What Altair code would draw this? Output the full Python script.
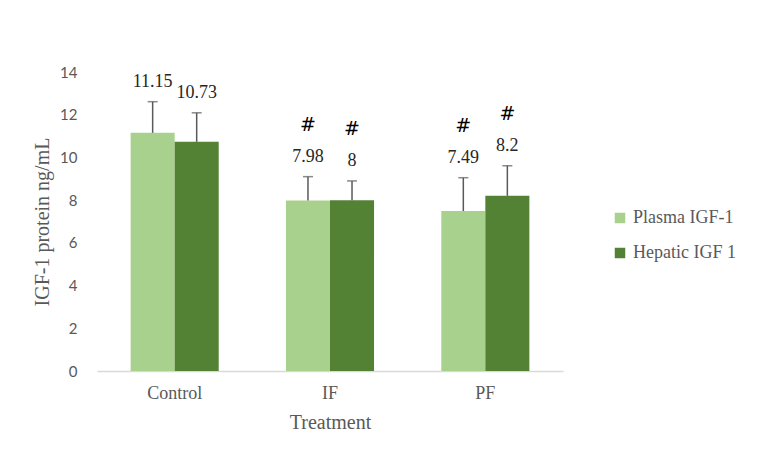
import altair as alt
import pandas as pd

categories = ["Control", "IF", "PF"]
series_names = ["Plasma IGF-1", "Hepatic IGF 1"]
plasma = [11.15, 7.98, 7.49]
hepatic = [10.73, 8, 8.2]
plasma_sd = [1.46, 1.12, 1.56]
hepatic_sd = [1.36, 0.90, 1.41]
plasma_sig = ["", "#", "#"]
hepatic_sig = ["", "#", "#"]
colors = ["#A9D18E", "#548235"]

rows = []
for i, c in enumerate(categories):
    rows.append({"Treatment": c, "Series": series_names[0], "value": plasma[i],
                 "sd": plasma_sd[i], "top": plasma[i] + plasma_sd[i],
                 "label": str(plasma[i]), "sig": plasma_sig[i]})
    rows.append({"Treatment": c, "Series": series_names[1], "value": hepatic[i],
                 "sd": hepatic_sd[i], "top": hepatic[i] + hepatic_sd[i],
                 "label": str(hepatic[i]), "sig": hepatic_sig[i]})
df = pd.DataFrame(rows)

serif = "Liberation Serif"
sans = "Lato"

x = alt.X("Treatment:N", sort=categories, title="Treatment",
          scale=alt.Scale(paddingInner=0.433, paddingOuter=0.2165),
          axis=alt.Axis(labelAngle=0, labelFont=serif, labelFontSize=18,
                        labelColor="#595959", titleFont=serif, titleFontSize=20,
                        titleFontWeight="normal", titleColor="#595959",
                        domainColor="#D9D9D9", domainWidth=1.5, ticks=False,
                        labelPadding=13, titlePadding=10))
xo = alt.XOffset("Series:N", sort=series_names,
                 scale=alt.Scale(paddingInner=0, paddingOuter=0))
y_scale = alt.Scale(domain=[0, 14])

base = alt.Chart(df)

bars = base.mark_bar().encode(
    x=x, xOffset=xo,
    y=alt.Y("value:Q", scale=y_scale, title="IGF-1 protein ng/mL",
            axis=alt.Axis(values=[0, 2, 4, 6, 8, 10, 12, 14], grid=False,
                          domain=False, ticks=False, labelFont=sans,
                          labelFontSize=15, labelColor="#595959", labelPadding=20,
                          titleFont=serif, titleFontSize=20,
                          titleFontWeight="normal", titleColor="#595959",
                          titlePadding=7)),
    color=alt.Color("Series:N", sort=series_names,
                    scale=alt.Scale(domain=series_names, range=colors),
                    legend=alt.Legend(title=None, orient="none", legendX=514,
                                      legendY=137, symbolType="square",
                                      symbolSize=110, symbolStrokeWidth=0,
                                      labelFont=serif, labelFontSize=18,
                                      labelColor="#595959", rowPadding=17,
                                      labelOffset=4)),
)

err = base.mark_rule(color="#595959", strokeWidth=1.5).encode(
    x=x, xOffset=xo, y=alt.Y("value:Q", scale=y_scale), y2="top:Q")

caps = base.mark_tick(color="#595959", thickness=1.5, size=10, orient="horizontal").encode(
    x=x, xOffset=xo, y=alt.Y("top:Q", scale=y_scale))

labels = base.mark_text(font=serif, fontSize=18, color="#262626", dy=-20).encode(
    x=x, xOffset=xo, y=alt.Y("top:Q", scale=y_scale), text="label:N")

sig = base.mark_text(font="DejaVu Sans", fontSize=19, color="#000000", dy=-52).encode(
    x=x, xOffset=xo, y=alt.Y("top:Q", scale=y_scale), text="sig:N")

chart = alt.layer(bars, err, caps, labels, sig).properties(
    width=466, height=299,
    autosize=alt.AutoSizeParams(type="none"),
    padding={"left": 89, "top": 64, "right": 187, "bottom": 91},
).configure(background="white").configure_view(stroke=None, strokeWidth=0)

chart.save("out.html", embed_options={"renderer": "svg", "actions": False})
